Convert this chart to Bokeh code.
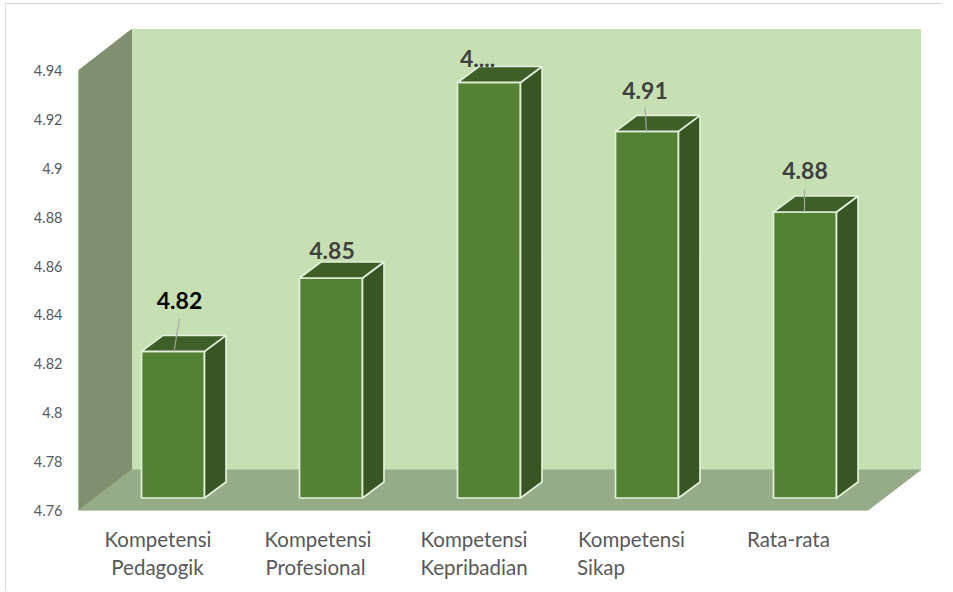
from bokeh.plotting import figure
from bokeh.embed import file_html
from bokeh.resources import INLINE
from bokeh.models import Range1d, FixedTicker, LinearAxis, ColumnDataSource
from bokeh.core.properties import value

line1 = ["Kompetensi", "Kompetensi", "Kompetensi", "Kompetensi", "Rata-rata"]
line2 = ["Pedagogik", "Profesional", "Kepribadian", "Sikap"]
values = [4.82, 4.85, 4.93, 4.91, 4.877]
shown = ["4.82", "4.85", "4....", "4.91", "4.88"]
y_ticks = [4.76, 4.78, 4.80, 4.82, 4.84, 4.86, 4.88, 4.90, 4.92, 4.94]
y_tick_labels = ["4.76", "4.78", "4.8", "4.82", "4.84", "4.86", "4.88", "4.9", "4.92", "4.94"]

# layout (pixels of the picture)
OX, OY = 5, 3             # top-left corner of the chart border
B = 2                     # css border width plus the rounding of the page
RIGHT = 941
BOTTOM = 590
FL, FR, FT, FB = 79, 925, 5, 510
PXY = 440 / 0.18          # px per unit
PXX = 158.0               # px per category
def X(px): return (px - 174) / PXX
def Y(py): return 4.76 + (510 - py) / PXY

p = figure(width=RIGHT - OX, height=BOTTOM - OY, output_backend="svg", toolbar_location=None,
           x_range=Range1d(X(FL), X(FR)), y_range=Range1d(Y(FB), Y(FT)),
           min_border_left=FL - OX - B, min_border_right=RIGHT - FR + B, min_border_top=FT - OY - B + 1,
           min_border_bottom=BOTTOM - FB + 1,
           background_fill_color=None, border_fill_color="white", outline_line_color=None,
           margin=(OY, 0, 0, OX),
           styles={"border-left": "1px solid #D9D9D9", "border-top": "1px solid #D9D9D9"})
p.grid.visible = False

# 3D box
p.patch([X(132), X(921), X(921), X(132)], [Y(29), Y(29), Y(469.5), Y(469.5)], fill_color="#C6E0B4", line_color="#C6E0B4")
p.patch([X(79), X(132), X(132), X(79)], [Y(70), Y(29), Y(469.5), Y(510)], fill_color="#7F8F70", line_color="#7F8F70")
p.patch([X(79), X(132), X(921), X(868)], [Y(510), Y(469.5), Y(469.5), Y(510)], fill_color="#96AB88", line_color="#96AB88")

# bars
half, ddx, base_off = 31.5, 21.5, 12.5
step = 158
edge = "#E2EFDA"
ddv = 16 / PXY
base = 4.76
shift = base_off / PXY  # bar base sits above the front floor edge
for i, v in enumerate(values):
    c = 173.5 + i * step
    l, r = X(c - half), X(c + half)
    dx = ddx / PXX
    b, t = base + shift, v + shift
    p.patch([l, r, r, l], [b, b, t, t], fill_color="#548235", line_color=edge, line_width=1.7)
    p.patch([r, r + dx, r + dx, r], [b, b + ddv, t + ddv, t], fill_color="#375623", line_color=edge, line_width=1.7)
    p.patch([l, r, r + dx, l + dx], [t, t, t + ddv, t + ddv], fill_color="#3E5F27", line_color=edge, line_width=1.7)

# leader lines
p.segment([X(174.5), X(647), X(805)], [Y(351), Y(131), Y(211)], [X(180), X(645.5), X(805)], [Y(318), Y(107), Y(189)],
          line_color="#A6A6A6", line_width=1.2)

# value labels
lx = [180, 332.5, 478, 645.5, 805.5]
ly = [300, 249.5, 58, 89.5, 170]
src = ColumnDataSource(dict(x=[X(a) for a in lx], y=[Y(a) for a in ly], t=shown,
                            c=["#000000", "#404040", "#404040", "#404040", "#404040"]))
p.text("x", "y", text="t", source=src, text_font=value("Lato"), text_font_style="bold", text_font_size="23px",
       text_color="c", text_align="center", text_baseline="middle")

# axes
p.yaxis.ticker = FixedTicker(ticks=y_ticks)
p.yaxis.major_label_overrides = dict(zip(y_ticks, y_tick_labels))
p.yaxis.axis_line_color = None
p.yaxis.major_tick_line_color = None
p.yaxis.minor_tick_line_color = None
p.yaxis.major_tick_out = 0
p.yaxis.major_tick_in = 0
p.yaxis.major_label_standoff = 16
p.yaxis.major_label_text_font = "Lato"
p.yaxis.major_label_text_font_size = "14.5px"
p.yaxis.major_label_text_color = "#595959"

def style_x(ax, standoff):
    ax.axis_line_color = None
    ax.major_tick_line_color = None
    ax.minor_tick_line_color = None
    ax.major_tick_out = 0
    ax.major_tick_in = 0
    ax.major_label_standoff = standoff
    ax.major_label_text_font = "Lato"
    ax.major_label_text_font_size = "20.5px"
    ax.major_label_text_color = "#595959"

x_centres = [158.5, 318.5, 474.5, 632, 789]
xt = [X(a) for a in x_centres]
p.xaxis.ticker = FixedTicker(ticks=xt)
p.xaxis.major_label_overrides = dict(zip(xt, line1))
style_x(p.xaxis[0], 16)

l2x = [158, 316, 474.5, 601.5]
xt2 = [X(a) for a in l2x]
ax2 = LinearAxis(ticker=FixedTicker(ticks=xt2), major_label_overrides=dict(zip(xt2, line2)))
style_x(ax2, 1)
p.add_layout(ax2, "below")

open("out.html", "w").write(file_html(p, INLINE))
